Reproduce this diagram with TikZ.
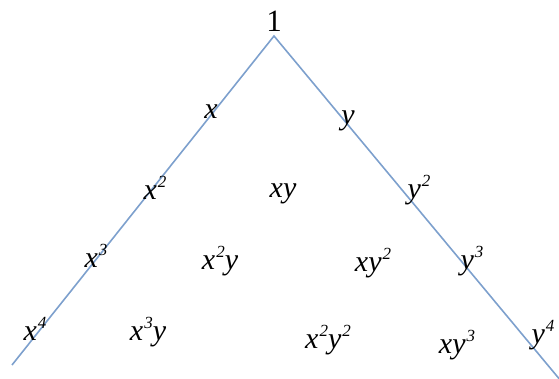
\documentclass[tikz,border=0pt]{standalone}
\usepackage{fontspec}
\setmainfont{Liberation Serif}
\definecolor{edgeblue}{RGB}{125,160,205}
\newcommand{\mysup}[1]{\kern1pt\raisebox{12pt}{\fontsize{17}{17}\selectfont #1}}
\begin{document}
\begin{tikzpicture}[x=1pt,y=-1pt,
  lbl/.style={inner sep=0pt, font=\fontsize{30}{32}\selectfont\itshape},
  edge/.style={draw=edgeblue, line width=1.6pt}]
\useasboundingbox (0,0) rectangle (559,379);
\coordinate (A) at (274,36);
\coordinate (L) at (12,365);
\coordinate (R) at (561,381);
\draw[edge] (L) -- (A) -- (R);
\node[lbl, font=\fontsize{31}{33}\selectfont\upshape] (one) at (274,21) {1};
\node[lbl] (x1) at (211,112) {x};
\node[lbl] (y1) at (348,121) {y};
\node[lbl] (x2) at (155,188) {x\mysup{2}};
\node[lbl] (xy) at (283,194) {xy};
\node[lbl] (y2) at (419,190) {y\mysup{2}};
\node[lbl] (x3) at (96,256) {x\mysup{3}};
\node[lbl] (x2y) at (220,261) {x\mysup{2}y};
\node[lbl] (xy2) at (373,263) {xy\mysup{2}};
\node[lbl] (y3) at (472,261) {y\mysup{3}};
\node[lbl] (x4) at (35,329) {x\mysup{4}};
\node[lbl] (x3y) at (148,332) {x\mysup{3}y};
\node[lbl] (x2y2) at (328,340) {x\mysup{2}y\mysup{2}};
\node[lbl] (xy3) at (457,345) {xy\mysup{3}};
\node[lbl] (y4) at (543,335) {y\mysup{4}};
\end{tikzpicture}
\end{document}
